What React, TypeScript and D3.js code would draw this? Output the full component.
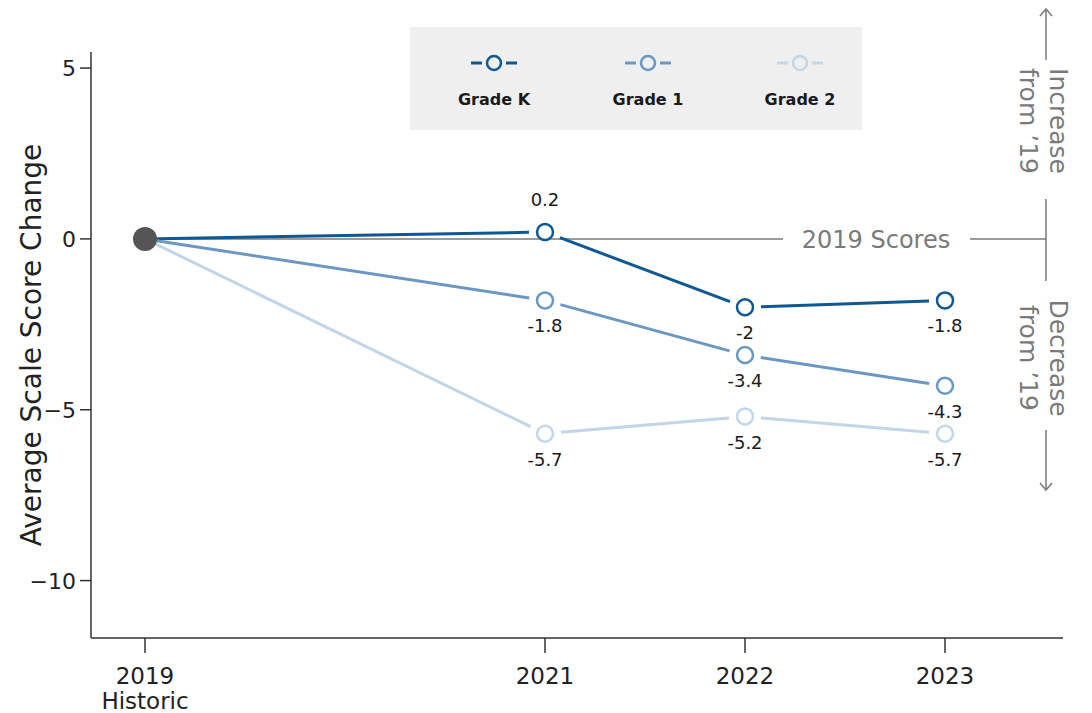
import React from "react";
import * as d3 from "d3";

const years = [2019, 2021, 2022, 2023];
const yearLabels = ["2019\nHistoric", "2021", "2022", "2023"];
const gradeK = [0, 0.2, -2, -1.8];
const grade1 = [0, -1.8, -3.4, -4.3];
const grade2 = [0, -5.7, -5.2, -5.7];
const seriesNames = ["Grade K", "Grade 1", "Grade 2"];
const seriesColors = ["#0f5892", "#6a98c2", "#c3d6e7"];
const yTicks = [5, 0, -5, -10];

const W = 1092, H = 713;
const FONT = "'DejaVu Sans', 'Noto Sans', sans-serif";

export default function App() {
  const x = d3.scaleLinear().domain([2018.73, 2023.59]).range([91, 1063]);
  const y = d3.scaleLinear().domain([-11.68, 5.47]).range([638, 52]);
  const series = [gradeK, grade1, grade2];
  const gap = 16;

  const segs: JSX.Element[] = [];
  series.forEach((vals, si) => {
    for (let i = 0; i < vals.length - 1; i++) {
      const x1 = x(years[i]), y1 = y(vals[i]);
      const x2 = x(years[i + 1]), y2 = y(vals[i + 1]);
      const dx = x2 - x1, dy = y2 - y1;
      const len = Math.hypot(dx, dy);
      const ux = dx / len, uy = dy / len;
      const s = i === 0 ? 0 : gap;
      segs.push(
        <line key={`s${si}-${i}`} x1={x1 + ux * s} y1={y1 + uy * s} x2={x2 - ux * gap} y2={y2 - uy * gap}
          stroke={seriesColors[si]} strokeWidth={3} />
      );
    }
  });

  const labelDy = (si: number, i: number) => {
    if (si === 0 && i === 1) return -26;
    return 32;
  };

  const legendX = [494, 648, 800];
  const refY = y(0);

  return (
    <svg width={W} height={H} style={{ position: "absolute", left: 0, top: 0, background: "#fff" }} fontFamily={FONT}>
      {/* legend */}
      <rect x={410} y={27} width={452} height={103} fill="#efefef" />
      {seriesNames.map((n, i) => (
        <g key={n}>
          <line x1={legendX[i] - 23} x2={legendX[i] - 12} y1={63} y2={63} stroke={seriesColors[i]} strokeWidth={3} />
          <line x1={legendX[i] + 12} x2={legendX[i] + 23} y1={63} y2={63} stroke={seriesColors[i]} strokeWidth={3} />
          <circle cx={legendX[i]} cy={63} r={7} fill="#efefef" stroke={seriesColors[i]} strokeWidth={2.5} />
          <text x={legendX[i]} y={105} textAnchor="middle" fontSize={16} fontWeight={700} fill="#1a1a1a">{n}</text>
        </g>
      ))}

      {/* reference line */}
      <line x1={x(2019)} x2={783} y1={refY} y2={refY} stroke="#7a7a7a" strokeWidth={1.5} />
      <line x1={970} x2={1046} y1={refY} y2={refY} stroke="#7a7a7a" strokeWidth={1.5} />
      <text x={876} y={refY + 9} textAnchor="middle" fontSize={24} fill="#7a7a7a">2019 Scores</text>

      {/* right annotation */}
      <line x1={1046} x2={1046} y1={199} y2={281} stroke="#7a7a7a" strokeWidth={1.5} />
      <line x1={1046} x2={1046} y1={9} y2={60} stroke="#7a7a7a" strokeWidth={1.5} />
      <path d="M1040,16 L1046,9 L1052,16" fill="none" stroke="#7a7a7a" strokeWidth={1.5} />
      <line x1={1046} x2={1046} y1={430} y2={490} stroke="#7a7a7a" strokeWidth={1.5} />
      <path d="M1040,483 L1046,490 L1052,483" fill="none" stroke="#7a7a7a" strokeWidth={1.5} />
      <g transform="translate(1046,121) rotate(90)">
        <text x={0} y={-4} textAnchor="middle" fontSize={25} fill="#7a7a7a">Increase</text>
        <text x={0} y={26} textAnchor="middle" fontSize={25} fill="#7a7a7a">from ’19</text>
      </g>
      <g transform="translate(1046,358) rotate(90)">
        <text x={0} y={-4} textAnchor="middle" fontSize={25} fill="#7a7a7a">Decrease</text>
        <text x={0} y={26} textAnchor="middle" fontSize={25} fill="#7a7a7a">from ’19</text>
      </g>

      {/* series */}
      {segs}
      {series.map((vals, si) =>
        vals.map((v, i) =>
          i === 0 ? null : (
            <g key={`p${si}-${i}`}>
              <circle cx={x(years[i])} cy={y(v)} r={8} fill="#fff" stroke={seriesColors[si]} strokeWidth={2.5} />
              <text x={x(years[i])} y={y(v) + labelDy(si, i)} textAnchor="middle" fontSize={18} fill="#1a1a1a">{String(v)}</text>
            </g>
          )
        )
      )}
      <circle cx={x(2019)} cy={y(0)} r={12} fill="#555" />

      {/* axes */}
      <line x1={91} x2={91} y1={52} y2={638} stroke="#333" strokeWidth={1.5} />
      <line x1={91} x2={1063} y1={638} y2={638} stroke="#333" strokeWidth={1.5} />
      {yTicks.map(t => (
        <g key={t}>
          <line x1={80} x2={91} y1={y(t)} y2={y(t)} stroke="#333" strokeWidth={1.5} />
          <text x={76} y={y(t) + 8} textAnchor="end" fontSize={22} fill="#222">{t === 0 ? "0" : t < 0 ? "−" + Math.abs(t) : String(t)}</text>
        </g>
      ))}
      {years.map((yr, i) => (
        <g key={yr}>
          <line x1={x(yr)} x2={x(yr)} y1={638} y2={653} stroke="#333" strokeWidth={1.5} />
          {yearLabels[i].split("\n").map((l, k) => (
            <text key={k} x={x(yr)} y={684 + k * 25} textAnchor="middle" fontSize={23} fill="#222">{l}</text>
          ))}
        </g>
      ))}
      <text transform={`translate(41,345) rotate(-90)`} textAnchor="middle" fontSize={28} fill="#222">Average Scale Score Change</text>
    </svg>
  );
}
